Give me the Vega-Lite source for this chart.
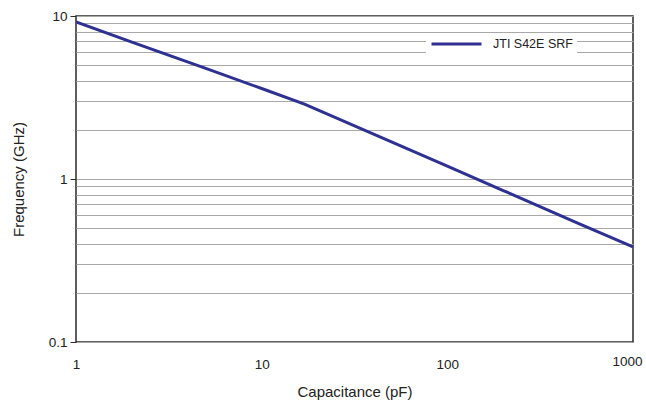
{
  "$schema": "https://vega.github.io/schema/vega-lite/v6.json",
  "width": 557,
  "height": 326,
  "autosize": "none",
  "padding": {"left": 76, "top": 16, "right": 13, "bottom": 62},
  "background": "white",
  "config": {
    "font": "Liberation Sans",
    "view": {"stroke": "#2a2a2a", "strokeWidth": 1.5},
    "axis": {"labelFont": "Liberation Sans", "titleFont": "Liberation Sans", "labelColor": "#222", "titleColor": "#222", "titleFontWeight": "normal", "labelFontSize": 13.5, "titleFontSize": 15}
  },
  "data": {
    "values": [
      {"cap": 1, "freq": 9.2, "series": "JTI S42E SRF"},
      {"cap": 2, "freq": 6.92, "series": "JTI S42E SRF"},
      {"cap": 5, "freq": 4.77, "series": "JTI S42E SRF"},
      {"cap": 10, "freq": 3.59, "series": "JTI S42E SRF"},
      {"cap": 17, "freq": 2.88, "series": "JTI S42E SRF"},
      {"cap": 50, "freq": 1.69, "series": "JTI S42E SRF"},
      {"cap": 100, "freq": 1.2, "series": "JTI S42E SRF"},
      {"cap": 200, "freq": 0.85, "series": "JTI S42E SRF"},
      {"cap": 500, "freq": 0.538, "series": "JTI S42E SRF"},
      {"cap": 1000, "freq": 0.383, "series": "JTI S42E SRF"}
    ]
  },
  "mark": {"type": "line", "strokeWidth": 3, "clip": true},
  "encoding": {
    "x": {
      "field": "cap", "type": "quantitative",
      "scale": {"type": "log", "domain": [1, 1000], "nice": false},
      "axis": {
        "title": "Capacitance (pF)", "values": [1, 10, 100, 1000], "format": "d", "grid": false, "ticks": false, "domain": false,
        "labelPadding": {"condition": {"test": "datum.value == 1000", "value": 12}, "value": 15},
        "labelOffset": {"condition": {"test": "datum.value == 1000", "value": -6}, "value": 0},
        "titlePadding": 14, "labelFlush": false
      }
    },
    "y": {
      "field": "freq", "type": "quantitative",
      "scale": {"type": "log", "domain": [0.1, 10], "nice": false},
      "axis": {
        "title": "Frequency (GHz)",
        "values": [0.1, 0.2, 0.3, 0.4, 0.5, 0.6, 0.7, 0.8, 0.9, 1, 2, 3, 4, 5, 6, 7, 8, 9, 10],
        "labelExpr": "datum.value == 10 ? '10' : datum.value == 1 ? '1' : datum.value == 0.1 ? '0.1' : ''",
        "grid": true,
        "gridColor": "#a8a8a8",
        "gridWidth": 1,
        "domain": false,
        "tickSize": 6,
        "tickColor": "#2a2a2a",
        "tickOpacity": {"condition": {"test": "datum.value == 10 || datum.value == 1 || datum.value == 0.1", "value": 1}, "value": 0},
        "labelPadding": 3,
        "titlePadding": 22,
        "labelFlush": false
      }
    },
    "color": {
      "field": "series", "type": "nominal",
      "scale": {"range": ["#2e3192"]},
      "legend": {
        "title": null,
        "orient": "none",
        "legendX": 350,
        "legendY": 17,
        "fillColor": "white",
        "padding": 4,
        "symbolType": "stroke",
        "symbolSize": 2500,
        "symbolStrokeWidth": 3,
        "clipHeight": 14,
        "labelFontSize": 12.5,
        "labelColor": "#222",
        "labelOffset": 10
      }
    }
  }
}
